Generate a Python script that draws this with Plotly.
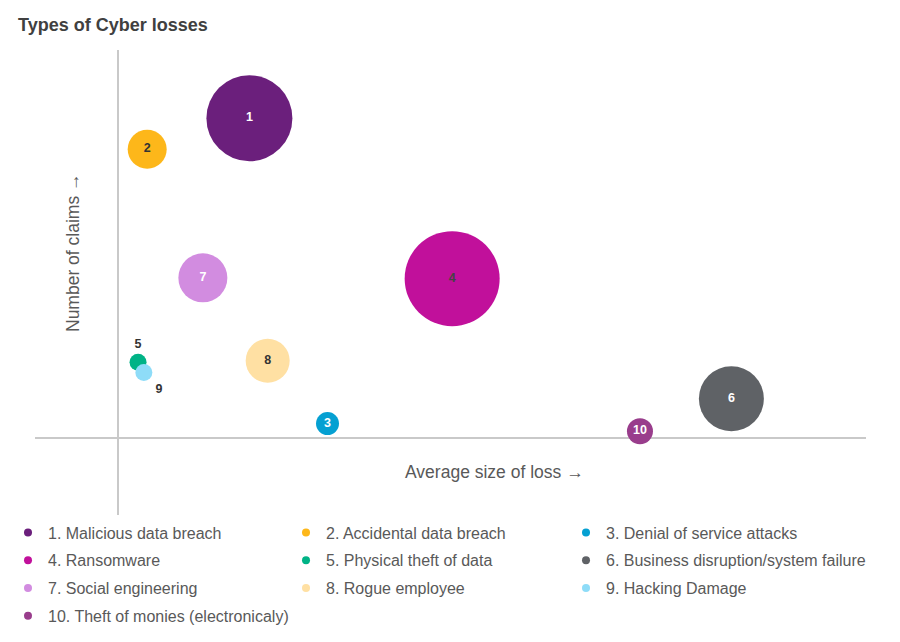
import plotly.graph_objects as go

# ---- data ----
labels = ["1", "2", "3", "4", "5", "6", "7", "8", "9", "10"]
names = [
    "1. Malicious data breach",
    "2. Accidental data breach",
    "3. Denial of service attacks",
    "4. Ransomware",
    "5. Physical theft of data",
    "6. Business disruption/system failure",
    "7. Social engineering",
    "8. Rogue employee",
    "9. Hacking Damage",
    "10. Theft of monies (electronicaly)",
]
avg_loss = [15.8, 3.5, 25.2, 40.2, 2.4, 73.8, 10.2, 18.0, 3.1, 62.8]
num_claims = [41.2, 37.2, 1.8, 20.5, 9.7, 5.0, 20.6, 9.9, 8.4, 0.8]
bubble_size = [86, 39, 23, 95, 17, 65, 49, 44, 17, 26]

colors = ["#6b1f7c", "#fdb71a", "#05a0d2", "#c1109b", "#00b386",
          "#5f6266", "#d28ce0", "#ffe0a3", "#8edcf8", "#993d8c"]
label_colors = ["#ffffff", "#333333", "#ffffff", "#444444", "#333333",
                "#ffffff", "#ffffff", "#333333", "#333333", "#ffffff"]
label_pos = ["middle center", "middle center", "middle center", "middle center",
             "top center", "middle center", "middle center", "middle center",
             "bottom right", "middle center"]

# page has an 8px body margin; figure size chosen to fit the window
OFF = 8
W, H = 900 - OFF, 642 - OFF
ML, MR, MT, MB = 35 - OFF, W - (866 - OFF), 50 - OFF, H - (515 - OFF)
PW, PH = W - ML - MR, H - MT - MB

def paper_x(page_x):
    return (page_x - OFF - ML) / PW

def paper_y(page_y):
    return 1 - (page_y - OFF - MT) / PH

FONT = "Arial, Liberation Sans, sans-serif"
fig = go.Figure()

# bubbles
fig.add_trace(go.Scatter(
    x=avg_loss, y=num_claims, mode="markers+text",
    text=labels, textposition=label_pos,
    textfont=dict(family=FONT, size=12.5, color=label_colors, weight="bold"),
    marker=dict(size=bubble_size, sizemode="diameter", sizeref=1,
                color=colors, opacity=1, line=dict(width=0)),
    showlegend=False, hoverinfo="skip", cliponaxis=False,
))

# legend entries in three columns
legend_ids = ["legend", "legend2", "legend3"]
for i, (n, c) in enumerate(zip(names, colors)):
    fig.add_trace(go.Scatter(
        x=[None], y=[None], mode="markers", name=n,
        legend=legend_ids[i % 3], legendgroup="g%d" % i,
        marker=dict(size=8, color=c),
    ))

def legend_cfg(text_page_x):
    return dict(
        orientation="v", xref="container", yref="container",
        x=max(0.0, (text_page_x - OFF - 40) / W), xanchor="left",
        y=1 - (533 - OFF - 17.5) / H, yanchor="top",
        font=dict(family=FONT, size=16, color="#595959"),
        tracegroupgap=4, itemclick=False, itemdoubleclick=False,
        bgcolor="rgba(0,0,0,0)", borderwidth=0,
    )

axis_col = "#c9c9c9"
fig.update_layout(
    width=W, height=H,
    margin=dict(l=ML, r=MR, t=MT, b=MB, autoexpand=False),
    paper_bgcolor="white", plot_bgcolor="white",
    font=dict(family=FONT, color="#595959"),
    title=dict(text="<b>Types of Cyber losses</b>", x=(18 - OFF) / W,
               xanchor="left", y=1 - (25 - OFF) / H, yanchor="middle",
               yref="container", font=dict(size=18, color="#404040")),
    xaxis=dict(range=[-10, 90], showgrid=False, showticklabels=False,
               zeroline=True, zerolinecolor=axis_col, zerolinewidth=1.5,
               showline=False, ticks=""),
    yaxis=dict(range=[-10, 50], showgrid=False, showticklabels=False,
               zeroline=True, zerolinecolor=axis_col, zerolinewidth=1.5,
               showline=False, ticks=""),
    legend=legend_cfg(46),
    legend2=legend_cfg(326),
    legend3=legend_cfg(606),
    annotations=[
        dict(text="Average size of loss →", x=paper_x(494), y=paper_y(472),
             xref="paper", yref="paper", showarrow=False,
             xanchor="center", yanchor="middle",
             font=dict(size=17.5, color="#595959")),
        dict(text="Number of claims →", x=paper_x(73), y=paper_y(253),
             xref="paper", yref="paper", showarrow=False, textangle=-90,
             xanchor="center", yanchor="middle",
             font=dict(size=17.5, color="#595959")),
    ],
)

fig.write_html("out.html")
